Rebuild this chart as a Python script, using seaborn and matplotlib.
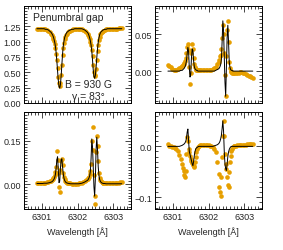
import pandas as pd
import seaborn as sns
import matplotlib.pyplot as plt
from matplotlib.ticker import MultipleLocator, FixedLocator

# wavelength sampling [A], denser around the two Fe I line cores
wave = [6300.86, 6300.90, 6300.94, 6300.98, 6301.02, 6301.06, 6301.10, 6301.14, 6301.18, 6301.22, 6301.26,
        6301.28, 6301.30, 6301.32, 6301.34, 6301.36, 6301.38, 6301.40, 6301.42, 6301.44, 6301.46, 6301.48, 6301.50,
        6301.52, 6301.54, 6301.56, 6301.58, 6301.60, 6301.62, 6301.64, 6301.66, 6301.68, 6301.70, 6301.72,
        6301.76, 6301.80, 6301.84, 6301.88, 6301.92, 6301.96, 6302.00, 6302.04, 6302.08, 6302.12, 6302.16, 6302.20, 6302.24,
        6302.28, 6302.30, 6302.32, 6302.34, 6302.36, 6302.38, 6302.40, 6302.42, 6302.44, 6302.46, 6302.48, 6302.50,
        6302.52, 6302.54, 6302.56, 6302.58, 6302.60, 6302.62, 6302.64, 6302.66, 6302.68, 6302.70, 6302.72,
        6302.76, 6302.80, 6302.84, 6302.88, 6302.92, 6302.96, 6303.00, 6303.04, 6303.08, 6303.12, 6303.16, 6303.20, 6303.24]

# observed profiles (orange dots)
i_obs = [1.21, 1.21, 1.21, 1.21, 1.21, 1.20, 1.20, 1.19, 1.17, 1.15, 1.12,
         1.10, 1.08, 1.05, 1.01, 0.96, 0.89, 0.80, 0.70, 0.57, 0.43, 0.32, 0.27,
         0.33, 0.46, 0.62, 0.78, 0.90, 0.98, 1.04, 1.08, 1.11, 1.13, 1.15,
         1.17, 1.18, 1.19, 1.20, 1.20, 1.21, 1.21, 1.21, 1.20, 1.20, 1.19, 1.18, 1.15,
         1.12, 1.10, 1.07, 1.04, 1.00, 0.94, 0.86, 0.76, 0.62, 0.50, 0.44, 0.46,
         0.56, 0.70, 0.84, 0.95, 1.03, 1.08, 1.12, 1.14, 1.16, 1.17, 1.18,
         1.19, 1.20, 1.20, 1.21, 1.21, 1.21, 1.21, 1.21, 1.21, 1.21, 1.22, 1.22, 1.22]
q_obs = [0.008, 0.007, 0.005, 0.003, 0.002, 0.002, 0.002, 0.003, 0.004, 0.005, 0.007,
         0.008, 0.009, 0.011, 0.014, 0.018, 0.024, 0.032, 0.036, 0.028, 0.005, -0.018, -0.002,
         0.025, 0.036, 0.030, 0.018, 0.009, 0.005, 0.003, 0.002, 0.002, 0.001, 0.001,
         0.001, 0.001, 0.001, 0.001, 0.001, 0.001, 0.002, 0.002, 0.002, 0.003, 0.004, 0.006, 0.009,
         0.012, 0.015, 0.020, 0.022, 0.030, 0.045, 0.063, 0.050, 0.025, -0.005, -0.034, 0.020,
         0.055, 0.068, 0.040, 0.012, 0.004, 0.000, -0.001, -0.002, -0.002, -0.002, -0.002,
         -0.002, -0.002, -0.002, -0.001, -0.001, -0.002, -0.003, -0.004, -0.005, -0.006, -0.007, -0.008, -0.009]
u_obs = [0.004, 0.004, 0.004, 0.004, 0.004, 0.005, 0.005, 0.006, 0.007, 0.009, 0.012,
         0.014, 0.017, 0.021, 0.026, 0.032, 0.042, 0.060, 0.115, 0.085, 0.040, -0.010, -0.028,
         0.050, 0.080, 0.088, 0.065, 0.040, 0.025, 0.016, 0.010, 0.007, 0.005, 0.004,
         0.003, 0.002, 0.001, 0.001, 0.001, 0.001, 0.001, 0.002, 0.003, 0.004, 0.006, 0.009, 0.013,
         0.017, 0.021, 0.026, 0.034, 0.045, 0.070, 0.150, 0.198, 0.120, 0.030, -0.069, -0.040,
         0.110, 0.167, 0.134, 0.080, 0.040, 0.022, 0.014, 0.009, 0.006, 0.005, 0.004,
         0.003, 0.003, 0.003, 0.003, 0.003, 0.003, 0.003, 0.004, 0.004, 0.005, 0.005, 0.006, 0.006]
v_obs = [0.004, 0.001, 0.000, -0.001, -0.002, -0.004, -0.006, -0.010, -0.016, -0.024, -0.034,
         -0.042, -0.049, -0.056, -0.060, -0.048, -0.015, 0.018, 0.010, -0.006, -0.012, -0.018, -0.024,
         -0.029, -0.033, -0.037, -0.040, -0.038, -0.030, -0.020, -0.012, -0.006, -0.002, 0.000,
         0.002, 0.003, 0.003, 0.003, 0.003, 0.003, 0.002, 0.001, 0.000, -0.002, -0.005, -0.012, -0.030,
         -0.055, -0.080, -0.090, -0.097, -0.060, -0.020, 0.020, 0.050, 0.020, -0.015, -0.035, -0.044,
         -0.060, -0.075, -0.080, -0.050, -0.030, -0.018, -0.010, -0.005, -0.002, 0.000, 0.001,
         0.001, 0.002, 0.002, 0.002, 0.002, 0.002, 0.003, 0.003, 0.004, 0.004, 0.005, 0.005, 0.005]

# best-fit synthetic profiles (black line)
i_fit = [1.21, 1.21, 1.21, 1.21, 1.21, 1.21, 1.20, 1.20, 1.19, 1.17, 1.15,
         1.13, 1.11, 1.08, 1.04, 0.99, 0.92, 0.82, 0.68, 0.52, 0.37, 0.27, 0.24,
         0.30, 0.44, 0.62, 0.80, 0.93, 1.01, 1.07, 1.10, 1.13, 1.15, 1.16,
         1.18, 1.19, 1.20, 1.20, 1.21, 1.21, 1.21, 1.21, 1.21, 1.21, 1.20, 1.19, 1.17,
         1.15, 1.13, 1.10, 1.06, 1.01, 0.94, 0.84, 0.70, 0.54, 0.43, 0.40, 0.45,
         0.58, 0.74, 0.88, 0.99, 1.06, 1.11, 1.14, 1.16, 1.17, 1.18, 1.19,
         1.20, 1.20, 1.21, 1.21, 1.21, 1.21, 1.21, 1.21, 1.21, 1.21, 1.21, 1.21, 1.21]
q_fit = [0.000, 0.000, 0.000, 0.000, 0.000, 0.000, 0.000, 0.000, 0.000, 0.001, 0.001,
         0.002, 0.003, 0.004, 0.006, 0.009, 0.014, 0.024, 0.032, 0.026, 0.004, -0.008, -0.004,
         0.018, 0.030, 0.028, 0.014, 0.006, 0.003, 0.002, 0.001, 0.001, 0.000, 0.000,
         0.000, 0.000, 0.000, 0.000, 0.000, 0.000, 0.000, 0.000, 0.000, 0.000, 0.000, 0.001, 0.002,
         0.003, 0.004, 0.006, 0.009, 0.016, 0.040, 0.068, 0.055, 0.020, -0.015, -0.034, 0.005,
         0.045, 0.062, 0.040, 0.012, 0.005, 0.002, 0.001, 0.001, 0.000, 0.000, 0.000,
         0.000, 0.000, 0.000, 0.000, 0.000, 0.000, 0.000, 0.000, 0.000, 0.000, 0.000, 0.000, 0.000]
u_fit = [0.002, 0.002, 0.002, 0.002, 0.002, 0.003, 0.003, 0.003, 0.004, 0.005, 0.007,
         0.008, 0.010, 0.013, 0.017, 0.023, 0.034, 0.056, 0.085, 0.095, 0.050, 0.005, 0.010,
         0.055, 0.085, 0.088, 0.060, 0.035, 0.020, 0.012, 0.008, 0.005, 0.004, 0.003,
         0.002, 0.001, 0.001, 0.001, 0.001, 0.001, 0.001, 0.001, 0.002, 0.003, 0.005, 0.007, 0.010,
         0.013, 0.016, 0.021, 0.029, 0.045, 0.090, 0.157, 0.130, 0.060, -0.010, -0.042, 0.020,
         0.120, 0.163, 0.120, 0.060, 0.030, 0.016, 0.010, 0.006, 0.004, 0.003, 0.002,
         0.002, 0.001, 0.001, 0.001, 0.001, 0.001, 0.001, 0.001, 0.001, 0.001, 0.001, 0.001, 0.001]
v_fit = [0.000, 0.000, 0.000, 0.000, 0.000, 0.000, 0.000, 0.000, 0.000, 0.001, 0.002,
         0.003, 0.004, 0.005, 0.007, 0.010, 0.016, 0.028, 0.034, 0.010, -0.010, -0.016, -0.022,
         -0.028, -0.034, -0.038, -0.030, -0.018, -0.010, -0.005, -0.003, -0.002, -0.001, 0.000,
         0.000, 0.000, 0.000, 0.000, 0.000, 0.000, 0.000, 0.000, 0.000, 0.000, 0.001, 0.002, 0.003,
         0.005, 0.007, 0.010, 0.015, 0.022, 0.035, 0.050, 0.030, -0.010, -0.035, -0.044, -0.047,
         -0.035, -0.020, -0.011, -0.006, -0.003, -0.001, 0.000, 0.000, 0.000, 0.000, 0.000,
         0.000, 0.000, 0.000, 0.000, 0.000, 0.000, 0.000, 0.000, 0.000, 0.000, 0.000, 0.000, 0.000]

# labelled y ticks per panel
i_ticks = [0.0, 0.25, 0.5, 0.75, 1.0, 1.25]
q_ticks = [0.0, 0.05]
u_ticks = [0.0, 0.15]
v_ticks = [-0.1, 0.0]

sns.set_style("ticks")
plt.rcParams['font.family'] = ['Liberation Sans', 'DejaVu Sans']
plt.rcParams['font.size'] = 6.5

orange = '#E69F00'
fig = plt.figure(figsize=(2.83, 2.51), dpi=100)

lefts = [0.085, 0.548]
bottoms = [0.586, 0.163]
w, h = 0.378, 0.386

panels = [
    (i_obs, i_fit, (0.0, 1.58), i_ticks, 0.05, '{x:.2f}'),
    (q_obs, q_fit, (-0.043, 0.088), q_ticks, 0.005, '{x:.2f}'),
    (u_obs, u_fit, (-0.087, 0.25), u_ticks, 0.01, '{x:.2f}'),
    (v_obs, v_fit, (-0.123, 0.067), v_ticks, 0.01, '{x:.1f}'),
]

for k, (obs, fit, ylim, yt, minor, fmt) in enumerate(panels):
    row, col = divmod(k, 2)
    ax = fig.add_axes([lefts[col], bottoms[row], w, h])
    sns.scatterplot(x=wave, y=obs, color=orange, s=11, linewidth=0, ax=ax, zorder=2)
    sns.lineplot(x=wave, y=fit, color='black', linewidth=0.7, ax=ax, zorder=3,
                 estimator=None, sort=False)
    ax.set_xlim(6300.5, 6303.5)
    ax.set_ylim(*ylim)
    ax.xaxis.set_major_locator(MultipleLocator(1))
    ax.xaxis.set_minor_locator(MultipleLocator(0.1))
    ax.yaxis.set_major_locator(FixedLocator(yt))
    ax.yaxis.set_minor_locator(MultipleLocator(minor))
    ax.yaxis.set_major_formatter(fmt)
    ax.tick_params(which='both', direction='in', top=True, right=True,
                   labelsize=6.5, pad=2, width=0.6)
    ax.tick_params(which='major', length=4)
    ax.tick_params(which='minor', length=2)
    for sp in ax.spines.values():
        sp.set_linewidth(0.7)
        sp.set_color('black')
    if row == 0:
        ax.set_xticklabels([])
    else:
        ax.set_xlabel('Wavelength [Å]', fontsize=6.5, labelpad=4)

    if k == 0:
        ax.text(6300.74, 1.40, 'Penumbral gap', fontsize=7.5, va='center')
        ax.text(6302.32, 0.31, 'B = 930 G', fontsize=7.5, ha='center', va='center')
        ax.text(6302.30, 0.12, 'γ = 83°', fontsize=7.5, ha='center', va='center')

fig.savefig('out.png', dpi=100)
